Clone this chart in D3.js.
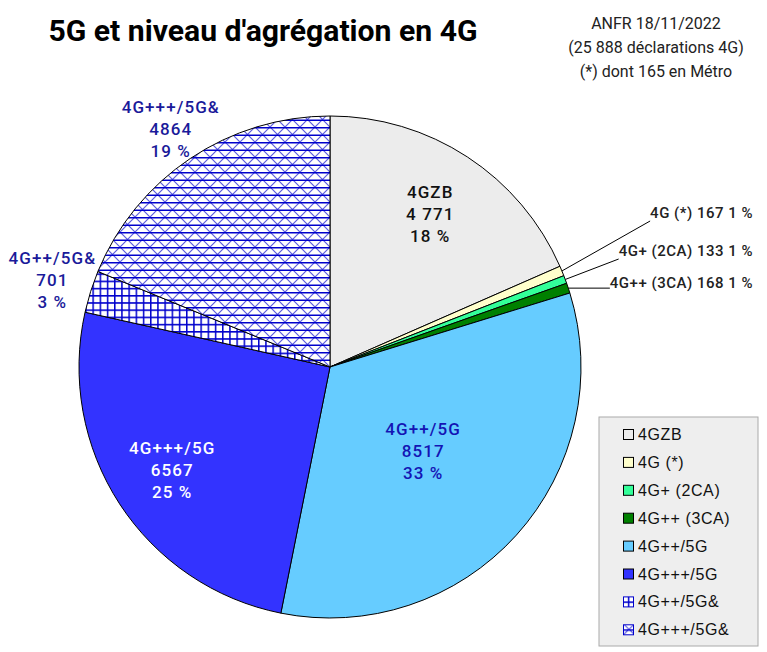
<!DOCTYPE html>
<html>
<head>
<meta charset="utf-8">
<script src="https://cdn.jsdelivr.net/npm/d3@7"></script>
<style>
  body { margin: 0; background: #fff; }
  svg { display: block; }
</style>
</head>
<body>
<svg id="chart" width="767" height="652"></svg>
<script>
// data
var categories = ['4GZB', '4G (*)', '4G+ (2CA)', '4G++ (3CA)', '4G++/5G', '4G+++/5G', '4G++/5G&', '4G+++/5G&'];
var counts = [4771, 167, 133, 168, 8517, 6567, 701, 4864];
var countLabels = ['4 771', '167', '133', '168', '8517', '6567', '701', '4864'];
var percentLabels = ['18 %', '1 %', '1 %', '1 %', '33 %', '25 %', '3 %', '19 %'];
var subtitleLines = ['ANFR 18/11/2022', '(25 888 déclarations 4G)', '(*) dont 165 en Métro'];

var fills = ['#ececec', '#ffffcc', '#33ff99', '#008000', '#66ccff', '#3333ff', 'url(#grid)', 'url(#hatch)'];
var labelColors = ['#111', '#222', '#222', '#222', '#1414b4', '#fff', '#1a1a9a', '#1a1a9a'];

var svg = d3.select('#chart');
var cx = 330, cy = 367, R = 251;

// fill patterns for the two "&" slices
var defs = svg.append('defs');
var grid = defs.append('pattern').attr('id', 'grid')
  .attr('patternUnits', 'userSpaceOnUse').attr('width', 7.2).attr('height', 7.2);
grid.append('rect').attr('width', 7.2).attr('height', 7.2).attr('fill', '#fff');
grid.append('path').attr('d', 'M0,0.7H7.2M0.7,0V7.2')
  .attr('stroke', '#0000cc').attr('stroke-width', 1.6);

var hatch = defs.append('pattern').attr('id', 'hatch')
  .attr('patternUnits', 'userSpaceOnUse').attr('width', 15).attr('height', 15);
hatch.append('rect').attr('width', 15).attr('height', 15).attr('fill', '#fff');
hatch.append('path').attr('d', 'M-1,-1L16,16M16,-1L-1,16')
  .attr('stroke', '#5a5ae0').attr('stroke-width', 1.2);
hatch.append('path').attr('d', 'M0,0.75H15M0,8.25H15')
  .attr('stroke', '#0000cc').attr('stroke-width', 1.6);

// title + source
svg.append('text')
  .attr('x', 263).attr('y', 41)
  .attr('text-anchor', 'middle')
  .attr('textLength', 429).attr('lengthAdjust', 'spacingAndGlyphs')
  .style('font-family', 'Roboto').style('font-weight', 'bold').style('font-size', '30px')
  .attr('fill', '#000')
  .text('5G et niveau d\'agrégation en 4G');

svg.append('g').selectAll('text')
  .data(subtitleLines)
  .enter().append('text')
  .attr('x', 656).attr('y', function(d, i) { return 29 + i * 24; })
  .attr('text-anchor', 'middle')
  .style('font-family', 'Roboto').style('font-size', '16px')
  .attr('fill', '#222')
  .text(function(d) { return d; });

// pie
var pie = d3.pie().sort(null).value(function(d) { return d; });
var arcs = pie(counts);
var arc = d3.arc().innerRadius(0).outerRadius(R);

var pieG = svg.append('g').attr('transform', 'translate(' + cx + ',' + cy + ')');

pieG.selectAll('path.slice')
  .data(arcs)
  .enter().append('path')
  .attr('class', 'slice')
  .attr('d', arc)
  .attr('fill', function(d, i) { return fills[i]; })
  .attr('stroke', '#000')
  .attr('stroke-width', 1);

// labels inside / around big slices, radius as a share of R
var labelRadius = { 0: 0.73, 4: 0.5, 5: 0.75, 6: 1.16, 7: 1.14 };

Object.keys(labelRadius).forEach(function(k) {
  var i = +k;
  var a = arcs[i];
  var mid = (a.startAngle + a.endAngle) / 2;
  var r = labelRadius[k] * R;
  var x = Math.sin(mid) * r, y = -Math.cos(mid) * r;
  var t = pieG.append('text')
    .attr('text-anchor', 'middle')
    .style('font-family', 'Roboto').style('font-size', '17px').style('font-weight', '500')
    .style('letter-spacing', '1.1px')
    .attr('fill', labelColors[i]);
  [categories[i], countLabels[i], percentLabels[i]].forEach(function(line, j) {
    t.append('tspan').attr('x', x).attr('y', y + (j - 1) * 22 + 6).text(line);
  });
});

// small slices with leader lines
var leaderBaselines = { 1: 218, 2: 256, 3: 288 };
var leaderRight = 753;

Object.keys(leaderBaselines).forEach(function(k) {
  var i = +k;
  var a = arcs[i];
  var mid = (a.startAngle + a.endAngle) / 2;
  var t = svg.append('text')
    .attr('x', leaderRight).attr('y', leaderBaselines[k])
    .attr('text-anchor', 'end')
    .style('font-family', 'Roboto').style('font-size', '15px').style('font-weight', '500')
    .style('letter-spacing', '0.5px')
    .attr('fill', '#222')
    .text(categories[i] + ' ' + countLabels[i] + ' ' + percentLabels[i]);
  var left = leaderRight - t.node().getComputedTextLength();
  var x0 = cx + Math.sin(mid) * R, y0 = cy - Math.cos(mid) * R;
  var y1 = i === 3 ? y0 : leaderBaselines[k] + 3;
  svg.append('line')
    .attr('x1', x0).attr('y1', y0)
    .attr('x2', left).attr('y2', y1)
    .attr('stroke', '#000').attr('stroke-width', 1);
});

// legend
var legend = svg.append('g').attr('transform', 'translate(599,417)');
legend.append('rect')
  .attr('width', 159).attr('height', 229)
  .attr('fill', '#eeeeee').attr('stroke', '#aaaaaa').attr('stroke-width', 1);

var rows = legend.selectAll('g.row')
  .data(categories)
  .enter().append('g')
  .attr('class', 'row')
  .attr('transform', function(d, i) { return 'translate(0,' + (17 + i * 27.9) + ')'; });

rows.append('rect')
  .attr('x', 24.5).attr('y', -4.5)
  .attr('width', 10).attr('height', 10)
  .attr('fill', function(d, i) { return fills[i]; })
  .attr('stroke', function(d, i) { return i >= 6 ? '#0000cc' : '#000'; })
  .attr('stroke-width', 1);

rows.append('text')
  .attr('x', 39).attr('y', 6)
  .style('font-family', 'Liberation Sans, Arial, sans-serif').style('font-size', '16px')
  .style('letter-spacing', '0.6px')
  .attr('fill', '#111')
  .text(function(d) { return d; });
</script>
</body>
</html>
